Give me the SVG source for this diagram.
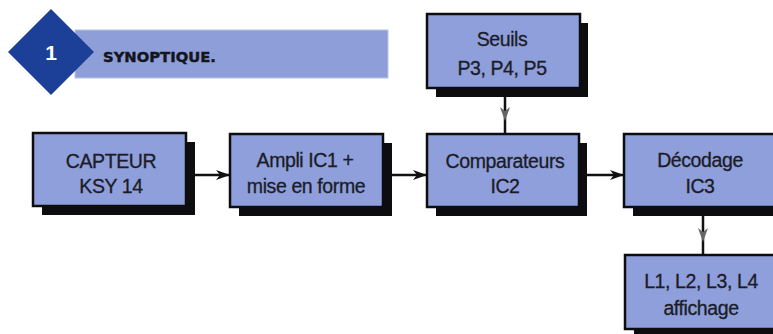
<svg xmlns="http://www.w3.org/2000/svg" width="773" height="334" viewBox="0 0 773 334">
<style>
.bg{fill:#ffffff}
.shadow{fill:#0d0d10}
.box{fill:#8e9fdb;stroke:#0d0d10;stroke-width:2.5}
.lbl{font-family:"Liberation Sans",Arial,sans-serif;font-size:19.5px;fill:#1c1c26;stroke:#1c1c26;stroke-width:0.3px;text-anchor:middle;letter-spacing:-0.4px}
.conn{stroke:#111;stroke-width:2.5;fill:none}
</style>
<defs>
<marker id="ah" viewBox="0 0 14 10" refX="13" refY="5" markerWidth="14" markerHeight="10" markerUnits="userSpaceOnUse" orient="auto">
<path d="M0,0 L14,5 L0,10 L4,5 Z" fill="#111"/>
</marker>
<marker id="ahv" viewBox="0 0 14 10" refX="13" refY="5" markerWidth="14" markerHeight="10" markerUnits="userSpaceOnUse" orient="auto">
<path d="M0,0 L14,5 L0,10 L4,5 Z" fill="#666"/>
</marker>
</defs>
<rect class="bg" x="0" y="0" width="773" height="334"/>

<g id="title">
<rect x="75" y="30" width="313" height="48" fill="#8d9ed9" stroke="#b9c3e6" stroke-width="1"/>
<polygon points="51,9 94,52 51,95 8,52" fill="#1c3f98"/>
<text x="51" y="60" font-family="Liberation Sans,Arial,sans-serif" font-size="21" font-weight="bold" fill="#ffffff" text-anchor="middle">1</text>
<text x="103" y="62" font-family="DejaVu Sans,sans-serif" font-size="13.5" font-weight="900" fill="#15151d" stroke="#15151d" stroke-width="0.4" textLength="113" lengthAdjust="spacingAndGlyphs">SYNOPTIQUE.</text>
</g>

<g id="connectors">
<path class="conn" d="M195,175 L229,175" marker-end="url(#ah)"/>
<path class="conn" d="M392,175 L426,175" marker-end="url(#ah)"/>
<path class="conn" d="M587,175 L623,175" marker-end="url(#ah)"/>
<path class="conn" d="M505,97 L505,120 L505,134" marker-mid="url(#ahv)"/>
<path class="conn" d="M703,216 L703,241 L703,255" marker-mid="url(#ahv)"/>
</g>

<g id="seuils">
<rect class="shadow" x="436" y="23" width="152" height="74"/>
<rect class="box" x="427" y="14" width="153" height="74"/>
<text class="lbl" x="502" y="46">Seuils</text>
<text class="lbl" x="502" y="75">P3, P4, P5</text>
</g>

<g id="capteur">
<rect class="shadow" x="42" y="142" width="153" height="73"/>
<rect class="box" x="33" y="133" width="153" height="73"/>
<text class="lbl" x="111" y="168">CAPTEUR</text>
<text class="lbl" x="111" y="193">KSY 14</text>
</g>

<g id="ampli">
<rect class="shadow" x="239" y="143" width="153" height="73"/>
<rect class="box" x="230" y="134" width="153" height="73"/>
<text class="lbl" x="305" y="167">Ampli IC1 +</text>
<text class="lbl" x="306" y="193">mise en forme</text>
</g>

<g id="comparateurs">
<rect class="shadow" x="436" y="143" width="151" height="73"/>
<rect class="box" x="427" y="134" width="152" height="73"/>
<text class="lbl" x="505" y="168">Comparateurs</text>
<text class="lbl" x="505" y="193">IC2</text>
</g>

<g id="decodage">
<rect class="shadow" x="633" y="143" width="153" height="73"/>
<rect class="box" x="624" y="134" width="153" height="73"/>
<text class="lbl" x="700" y="167">Décodage</text>
<text class="lbl" x="700" y="193">IC3</text>
</g>

<g id="affichage">
<rect class="shadow" x="634" y="264" width="153" height="74"/>
<rect class="box" x="625" y="255" width="153" height="74"/>
<text class="lbl" x="701" y="288">L1, L2, L3, L4</text>
<text class="lbl" x="701" y="315">affichage</text>
</g>
</svg>
